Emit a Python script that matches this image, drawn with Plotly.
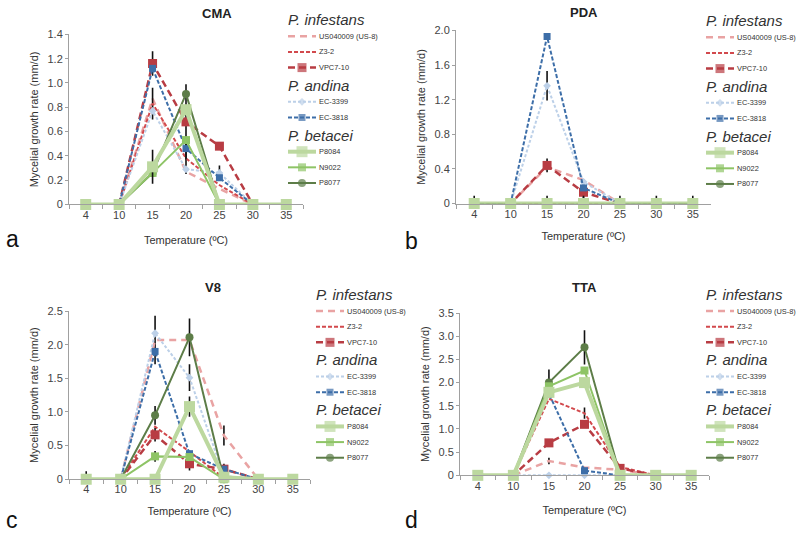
import plotly.graph_objects as go

W, H = 796, 540
FONT = "Liberation Sans, Arial, sans-serif"

# ---- data -------------------------------------------------------------
temps = ["4", "10", "15", "20", "25", "30", "35"]

strains = ["US040009 (US-8)", "Z3-2", "VPC7-10", "EC-3399", "EC-3818",
           "P8084", "N9022", "P8077"]
species = ["P. infestans", "P. andina", "P. betacei"]
species_size = [3, 2, 3]

# CMA
cma_us8 = [0, 0, 0.87, 0.27, 0.13, 0, 0]
cma_z32 = [0, 0, 0.83, 0.38, 0.16, 0, 0]
cma_vpc = [0, 0, 1.16, 0.68, 0.48, 0, 0]
cma_ec3399 = [0, 0, 0.77, 0.29, 0.26, 0, 0]
cma_ec3818 = [0, 0, 1.12, 0.46, 0.22, 0, 0]
cma_p8084 = [0, 0, 0.31, 0.78, 0, 0, 0]
cma_n9022 = [0, 0, 0.26, 0.53, 0, 0, 0]
cma_p8077 = [0, 0, 0.26, 0.91, 0, 0, 0]
cma_z32_err = [0, 0, 0.13, 0.13, 0, 0, 0]
cma_vpc_err = [0, 0, 0.10, 0.31, 0, 0, 0]
cma_ec3399_err = [0, 0, 0, 0, 0.06, 0, 0]
cma_p8084_err = [0, 0, 0.14, 0, 0, 0, 0]

# PDA
pda_us8 = [0, 0, 0.42, 0.27, 0, 0, 0]
pda_z32 = [0, 0, 0, 0, 0, 0, 0]
pda_vpc = [0, 0, 0.44, 0.13, 0, 0, 0]
pda_ec3399 = [0, 0, 1.36, 0.25, 0, 0, 0]
pda_ec3818 = [0, 0, 1.93, 0.18, 0, 0, 0]
pda_p8084 = [0, 0, 0, 0, 0, 0, 0]
pda_n9022 = [0, 0, 0, 0, 0, 0, 0]
pda_p8077 = [0, 0, 0, 0, 0, 0, 0]
pda_vpc_err = [0, 0, 0.08, 0.15, 0, 0, 0]
pda_ec3399_err = [0, 0, 0.17, 0, 0, 0, 0]
pda_p8084_err = [0.09, 0, 0.09, 0.09, 0.09, 0.09, 0.09]

# V8
v8_us8 = [0, 0, 2.07, 2.07, 0.65, 0, 0]
v8_z32 = [0, 0, 0.78, 0.41, 0.02, 0, 0]
v8_vpc = [0, 0, 0.66, 0.23, 0.15, 0, 0]
v8_ec3399 = [0, 0, 2.17, 1.51, 0.05, 0, 0]
v8_ec3818 = [0, 0, 1.90, 0.38, 0.15, 0, 0]
v8_p8084 = [0, 0, 0, 1.08, 0.03, 0, 0]
v8_n9022 = [0, 0, 0.34, 0.33, 0, 0, 0]
v8_p8077 = [0, 0, 0.95, 2.11, 0, 0, 0]
v8_us8_err = [0, 0, 0.36, 0, 0.15, 0, 0]
v8_vpc_err = [0, 0, 0.10, 0.10, 0.08, 0, 0]
v8_ec3399_err = [0, 0, 0, 0.20, 0, 0, 0]
v8_p8084_err = [0.12, 0, 0, 0.15, 0, 0, 0]
v8_n9022_err = [0, 0, 0.08, 0, 0, 0, 0]
v8_p8077_err = [0, 0, 0.14, 0.28, 0, 0, 0]

# TTA
tta_us8 = [0, 0, 0.31, 0.17, 0.12, 0, 0]
tta_z32 = [0, 0, 1.65, 1.34, 0.18, 0, 0]
tta_vpc = [0, 0, 0.70, 1.10, 0.15, 0, 0]
tta_ec3399 = [0, 0, 0, 0, 0, 0, 0]
tta_ec3818 = [0, 0, 1.76, 0.10, 0, 0, 0]
tta_p8084 = [0, 0, 1.79, 2.00, 0, 0, 0]
tta_n9022 = [0, 0, 1.92, 2.26, 0, 0, 0]
tta_p8077 = [0, 0, 2.00, 2.76, 0, 0, 0]
tta_us8_err = [0, 0, 0.07, 0, 0, 0, 0]
tta_z32_err = [0, 0, 0, 0.12, 0.05, 0, 0]
tta_p8077_err = [0, 0, 0.28, 0.37, 0, 0, 0]

cma_ticks = ["0", "0.2", "0.4", "0.6", "0.8", "1.0", "1.2", "1.4"]
pda_ticks = ["0", "0.4", "0.8", "1.2", "1.6", "2.0"]
v8_ticks = ["0", "0.5", "1.0", "1.5", "2.0", "2.5"]
tta_ticks = ["0", "0.5", "1.0", "1.5", "2.0", "2.5", "3.0", "3.5"]

# ---- styles -------------------------------------------------------------
styles = {
    "US040009 (US-8)": dict(color="#e9a3a3", dash="7px,5px", width=2.5, symbol=None, size=0),
    "Z3-2": dict(color="#d2494d", dash="4px,2px", width=2, symbol=None, size=0),
    "VPC7-10": dict(color="#b83c43", dash="7px,4px", width=2.5, symbol="square", size=9),
    "EC-3399": dict(color="#bcd0e8", dash="3px,2px", width=2, symbol="diamond", size=6),
    "EC-3818": dict(color="#3d6ea8", dash="4px,2px", width=2, symbol="square", size=7),
    "P8084": dict(color="#bcd89f", dash="solid", width=4, symbol="square", size=11),
    "N9022": dict(color="#8ec466", dash="solid", width=2, symbol="square", size=8),
    "P8077": dict(color="#5d7d48", dash="solid", width=2, symbol="circle", size=8),
}
# drawing order: P8084 last so its big squares sit on the zero line
draw_order = [0, 1, 2, 3, 4, 7, 6, 5]

zeros = [0] * len(temps)
panels = [
    dict(title="CMA", vals=[cma_us8, cma_z32, cma_vpc, cma_ec3399, cma_ec3818, cma_p8084, cma_n9022, cma_p8077],
         errs=[zeros, cma_z32_err, cma_vpc_err, cma_ec3399_err, zeros, cma_p8084_err, zeros, zeros],
         ticks=cma_ticks, dx=(69, 303), dy=(29, 203), ttl=(200, 8), lab=("a", 4, 238), leg=(288, 14), st=16),
    dict(title="PDA", vals=[pda_us8, pda_z32, pda_vpc, pda_ec3399, pda_ec3818, pda_p8084, pda_n9022, pda_p8077],
         errs=[zeros, zeros, pda_vpc_err, pda_ec3399_err, zeros, pda_p8084_err, zeros, zeros],
         ticks=pda_ticks, dx=(456, 711), dy=(25, 202), ttl=(600, 7), lab=("b", 403, 240), leg=(706, 15), st=13),
    dict(title="V8", vals=[v8_us8, v8_z32, v8_vpc, v8_ec3399, v8_ec3818, v8_p8084, v8_n9022, v8_p8077],
         errs=[v8_us8_err, zeros, v8_vpc_err, v8_ec3399_err, zeros, v8_p8084_err, v8_n9022_err, v8_p8077_err],
         ticks=v8_ticks, dx=(69, 310), dy=(312, 484), ttl=(203, 288), lab=("c", 4, 526), leg=(316, 295), st=12),
    dict(title="TTA", vals=[tta_us8, tta_z32, tta_vpc, tta_ec3399, tta_ec3818, tta_p8084, tta_n9022, tta_p8077],
         errs=[tta_us8_err, tta_z32_err, zeros, zeros, zeros, zeros, zeros, tta_p8077_err],
         ticks=tta_ticks, dx=(460, 709), dy=(314, 480), ttl=(599, 288), lab=("d", 403, 526), leg=(706, 295), st=15),
]

fig = go.Figure()
layout = {}

for i, p in enumerate(panels):
    n = "" if i == 0 else str(i + 1)
    xa, ya = "x" + n, "y" + n
    tick_vals = [float(t) for t in p["ticks"]]
    layout["xaxis" + n] = dict(
        domain=[p["dx"][0] / W, p["dx"][1] / W], anchor=ya, type="category",
        categoryorder="array", categoryarray=temps, range=[-0.5, 6.5],
        showline=True, linecolor="#a0a0a0", linewidth=1, ticks="outside", tickson="boundaries",
        ticklen=4, tickcolor="#a0a0a0", showgrid=False, zeroline=False,
        tickfont=dict(size=11, color="#444", family=FONT),
        title=dict(text="Temperature (ºC)", font=dict(size=11, color="#333", family=FONT), standoff=p["st"]),
        fixedrange=True)
    layout["yaxis" + n] = dict(
        domain=[1 - p["dy"][1] / H, 1 - p["dy"][0] / H], anchor=xa,
        range=[0, tick_vals[-1]], tickvals=tick_vals, ticktext=p["ticks"],
        showline=True, linecolor="#a0a0a0", linewidth=1, ticks="outside", ticklen=3,
        tickcolor="#a0a0a0", showgrid=False, zeroline=False,
        tickfont=dict(size=11, color="#444", family=FONT),
        title=dict(text="Mycelial growth rate (mm/d)", font=dict(size=11, color="#333", family=FONT), standoff=6),
        fixedrange=True)

    for k in draw_order:
        s, vals, err = strains[k], p["vals"][k], p["errs"][k]
        st = styles[s]
        fig.add_trace(go.Scatter(
            x=temps, y=vals, xaxis=xa, yaxis=ya, name=s, showlegend=False,
            mode="lines+markers" if st["symbol"] else "lines",
            line=dict(color=st["color"], dash=st["dash"], width=st["width"]),
            marker=dict(symbol=st["symbol"] or "circle", size=st["size"], color=st["color"]),
            error_y=dict(type="data", array=err, color="#111", thickness=1.6, width=0,
                         visible=any(e > 0 for e in err)),
            cliponaxis=False))

    fig.add_annotation(text="<b>%s</b>" % p["title"], x=p["ttl"][0] / W, y=1 - p["ttl"][1] / H,
                       xref="paper", yref="paper", showarrow=False, yanchor="middle",
                       font=dict(size=13, color="#222", family=FONT))
    fig.add_annotation(text=p["lab"][0], x=p["lab"][1] / W, y=1 - p["lab"][2] / H,
                       xref="paper", yref="paper", showarrow=False, xanchor="left", yanchor="middle",
                       font=dict(size=23, color="#111", family=FONT))

# overlay axis in pixel units, used only for the legend swatches
layout["xaxis5"] = dict(domain=[0, 1], range=[0, W], visible=False, anchor="y5", fixedrange=True)
layout["yaxis5"] = dict(domain=[0, 1], range=[H, 0], visible=False, anchor="x5", fixedrange=True)

for p in panels:
    lx, y = p["leg"]
    k = 0
    for g, (sp, cnt) in enumerate(zip(species, species_size)):
        if g > 0:
            y += 18
        fig.add_annotation(text="<i>%s</i>" % sp, x=(lx - 2) / W, y=1 - y / H, xref="paper", yref="paper",
                           showarrow=False, xanchor="left", yanchor="middle",
                           font=dict(size=15, color="#333", family=FONT))
        for j in range(cnt):
            y += 17 if j == 0 else 16
            s = strains[k]
            st = styles[s]
            fig.add_trace(go.Scatter(
                x=[lx, lx + 14, lx + 28], y=[y, y, y], xaxis="x5", yaxis="y5",
                mode="lines+markers" if st["symbol"] else "lines", showlegend=False, hoverinfo="skip",
                line=dict(color=st["color"], dash=st["dash"], width=st["width"]),
                marker=dict(symbol=st["symbol"] or "circle", size=[0, st["size"], 0],
                            color=st["color"], line=dict(width=0))))
            fig.add_annotation(text=s, x=(lx + 29) / W, y=1 - y / H, xref="paper", yref="paper",
                               showarrow=False, xanchor="left", yanchor="middle",
                               font=dict(size=7.4, color="#333", family=FONT))
            k += 1

fig.update_layout(**layout)
fig.update_layout(width=W, height=H, margin=dict(l=0, r=0, t=0, b=0),
                  paper_bgcolor="white", plot_bgcolor="rgba(0,0,0,0)", showlegend=False,
                  font=dict(family=FONT))
# the page body has an 8px default margin that would push the figure out of the window
fig.write_html("out.html", config={"displayModeBar": False},
               post_script="document.body.style.margin='0';")
